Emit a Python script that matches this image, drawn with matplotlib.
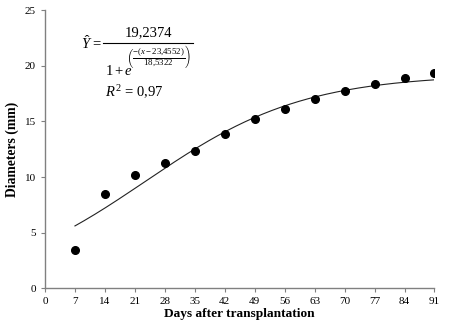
import numpy as np
import matplotlib
matplotlib.use("Agg")
import matplotlib.pyplot as plt
from matplotlib.lines import Line2D

plt.rcParams['font.family'] = ['Liberation Serif', 'DejaVu Serif']
plt.rcParams['mathtext.fontset'] = 'custom'
plt.rcParams['mathtext.rm'] = 'Liberation Serif'
plt.rcParams['mathtext.it'] = 'Liberation Serif:italic'
plt.rcParams['mathtext.bf'] = 'Liberation Serif:bold'

days = [7, 14, 21, 28, 35, 42, 49, 56, 63, 70, 77, 84, 91]
diam = [3.47, 8.45, 10.19, 11.24, 12.32, 13.9, 15.25, 16.15, 17.0, 17.7, 18.35, 18.94, 19.36]

# logistic fit from the figure
a, b, c = 19.2374, 23.4552, 18.5322
xticks = list(range(0, 92, 7))
yticks = [0, 5, 10, 15, 20, 25]

W, H = 449, 330
fig = plt.figure(figsize=(W / 100, H / 100), dpi=100)
ax = fig.add_axes([0.1002, 0.1264, 0.8675, 0.8424])

xf = np.linspace(7, 91, 200)
ax.plot(xf, a / (1 + np.exp(-(xf - b) / c)), color="#222222", lw=0.8)
ax.plot(days, diam, "o", color="black", ms=5.5)

ax.set_xlim(0, 91); ax.set_ylim(0, 25)
ax.set_xticks(xticks); ax.set_yticks(yticks)
for s in ("top", "right"):
    ax.spines[s].set_visible(False)
for s in ("left", "bottom"):
    ax.spines[s].set_color("#808080")
    ax.spines[s].set_linewidth(1.0)
ax.tick_params(direction="out", length=3, color="#808080", labelsize=8)
ax.set_xlabel("Days after transplantation", fontsize=9.6, fontweight="bold", labelpad=1)
ax.set_ylabel("Diameters (mm)", fontsize=9.8, fontweight="bold", labelpad=4)

# equation, placed in pixel coords (y from top)
def px(x, y):
    return x / W, 1 - y / H

fs = 10.5
fig.text(*px(81, 43), r"$\hat{Y}$ =", fontsize=fs, va="center", ha="left")
fig.text(*px(148, 33), "19,2374", fontsize=fs, va="center", ha="center")
fig.add_artist(Line2D([103 / W, 193 / W], [1 - 43 / H] * 2, color="black", lw=0.8))
fig.text(*px(105, 71), r"$1+e$", fontsize=fs, va="center", ha="left")
fig.text(*px(126, 56), r"$\left(\frac{-(x-23{,}4552)}{18{,}5322}\right)$",
         fontsize=9, va="center", ha="left")
fig.text(*px(105, 92), r"$R^2$ = 0,97", fontsize=fs, va="center", ha="left")

fig.savefig("out.png", dpi=100)
